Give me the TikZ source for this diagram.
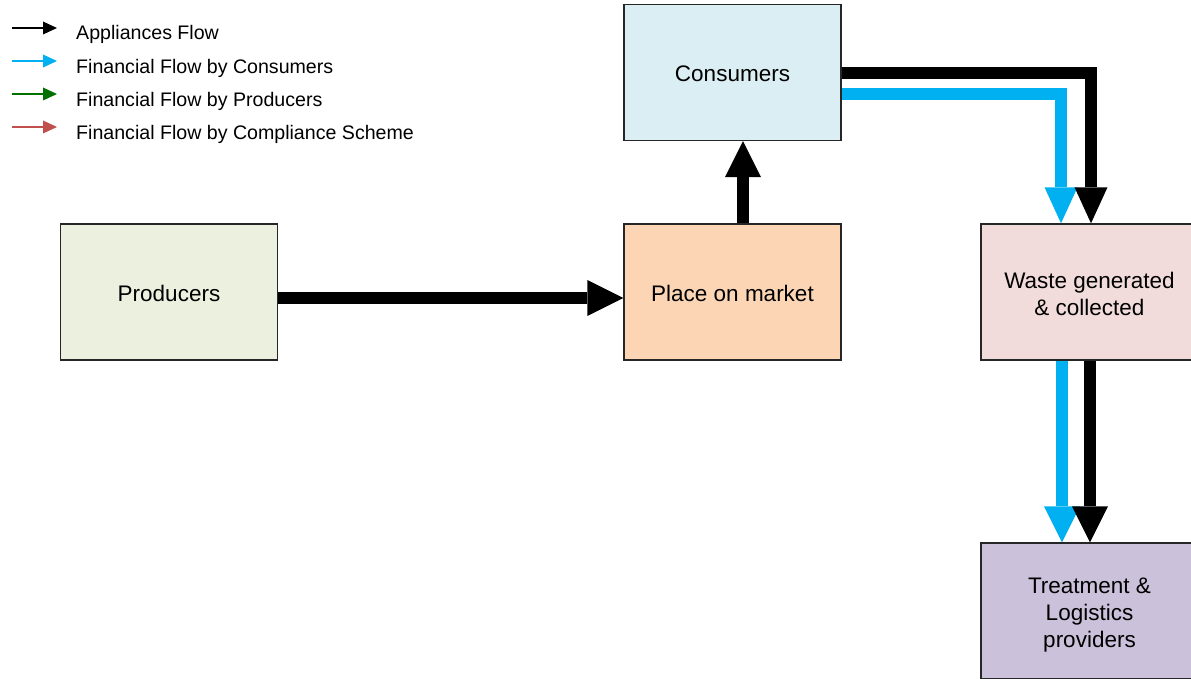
\documentclass[tikz,border=0pt]{standalone}
\usepackage{fontspec}
\setmainfont{Liberation Sans}
\usetikzlibrary{arrows.meta}
\definecolor{cbox}{HTML}{DAEEF3}
\definecolor{pbox}{HTML}{EBF1DE}
\definecolor{mbox}{HTML}{FCD5B5}
\definecolor{wbox}{HTML}{F2DCDB}
\definecolor{tbox}{HTML}{CCC1DA}
\definecolor{fcyan}{HTML}{00B0F0}
\definecolor{fgreen}{HTML}{007000}
\definecolor{fred}{HTML}{C0504D}
\tikzset{
  flowbox/.style={draw=black!85, line width=1.4pt, minimum width=217pt, minimum height=136pt,
    inner sep=0pt},
  boxtext/.style={align=center, inner sep=0pt, font=\fontsize{22.5}{27}\selectfont},
  bigflow/.style={line width=12pt, -{Triangle[length=36pt,width=36pt,line width=0pt]}},
  bigflowb/.style={line width=12pt, -{Triangle[length=36pt,width=33pt,line width=0pt]}},
  legflow/.style={line width=2.7pt, -{Triangle[length=14pt,width=13pt,line width=0pt]}},
  legtext/.style={anchor=west, inner sep=0pt, font=\fontsize{19.6}{23}\selectfont}
}
\begin{document}
\begin{tikzpicture}[x=1pt,y=-1pt]
\useasboundingbox (0,0) rectangle (1191,679);
% boxes
\node[flowbox, fill=cbox, label={[boxtext, yshift=-1.5pt]center:Consumers}] (cons) at (732.5,72.5) {};
\node[flowbox, fill=pbox, label={[boxtext, yshift=-1.5pt]center:Producers}] (prod) at (169,292) {};
\node[flowbox, fill=mbox, label={[boxtext, yshift=-1.5pt]center:Place on market}] (mark) at (732.5,292) {};
\node[flowbox, fill=wbox, label={[boxtext, yshift=-2pt]center:Waste generated\\\& collected}] (waste) at (1089.5,292) {};
\node[flowbox, fill=tbox, label={[boxtext, yshift=-4pt]center:Treatment \&\\Logistics\\providers}] (treat) at (1089.5,611) {};
% main flows
\draw[bigflow] ([yshift=-6pt]prod.east) -- ([yshift=-6pt]mark.west);
\draw[bigflow] ([xshift=10.5pt]mark.north) -- ([xshift=10.5pt]cons.south);
\draw[bigflowb, fcyan] ([yshift=-21.5pt]cons.east) -| ([xshift=-28.5pt]waste.north);
\draw[bigflowb, black] ([yshift=-0.5pt]cons.east) -| ([xshift=1.5pt]waste.north);
\draw[bigflow, fcyan] ([xshift=-27.5pt]waste.south) -- ([xshift=-27.5pt]treat.north);
\draw[bigflow, black] ([xshift=0.5pt]waste.south) -- ([xshift=0.5pt]treat.north);
% legend
\coordinate (l1a) at (12,28); \coordinate (l1b) at (57,28);
\coordinate (l2a) at (12,61); \coordinate (l2b) at (57,61);
\coordinate (l3a) at (12,94); \coordinate (l3b) at (57,94);
\coordinate (l4a) at (12,127); \coordinate (l4b) at (57,127);
\draw[legflow, black] (l1a) -- (l1b);
\draw[legflow, fcyan] (l2a) -- (l2b);
\draw[legflow, fgreen] (l3a) -- (l3b);
\draw[legflow, fred] (l4a) -- (l4b);
\node[legtext] (t1) at (76,34.5) {Appliances Flow};
\node[legtext] (t2) at (76,68) {Financial Flow by Consumers};
\node[legtext] (t3) at (76,101) {Financial Flow by Producers};
\node[legtext] (t4) at (76,134) {Financial Flow by Compliance Scheme};
\end{tikzpicture}
\end{document}
